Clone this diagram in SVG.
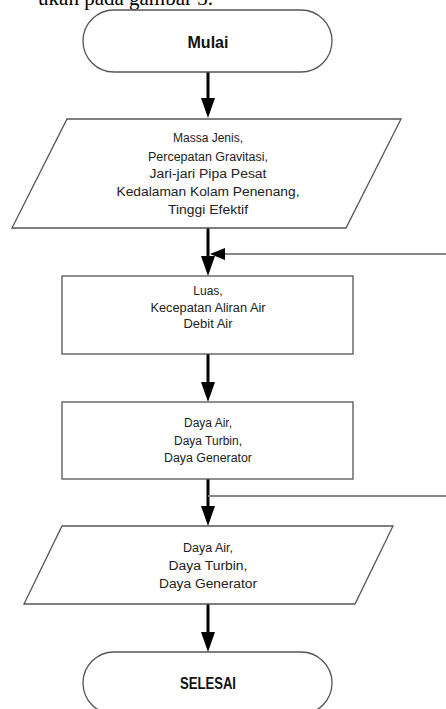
<svg xmlns="http://www.w3.org/2000/svg" width="446" height="709" viewBox="0 0 446 709">
<style>
.shape{fill:#fff;stroke:#555;stroke-width:1.3}
.t{font-family:"Liberation Sans",Arial,sans-serif;font-size:12px;fill:#222;text-anchor:middle}
.b{font-family:"Liberation Sans",Arial,sans-serif;font-size:16px;font-weight:bold;fill:#111;text-anchor:middle}
.flow{stroke:#000;stroke-width:3;fill:none}
.fb{stroke:#888;stroke-width:2;fill:none}
.ah{fill:#000}
</style>
<rect width="446" height="709" fill="#fff"/>
<text x="213" y="5" font-family="Liberation Serif,serif" font-size="21" text-anchor="end" fill="#000">ukan pada gambar 3.</text>
<g id="connectors">
<line class="flow" x1="208" y1="72" x2="208" y2="100"/>
<polygon class="ah" points="201,98 215,98 208,118"/>
<line class="flow" x1="208" y1="228" x2="208" y2="258"/>
<polygon class="ah" points="201,256 215,256 208,276"/>
<line class="fb" x1="446" y1="254" x2="222" y2="254"/>
<polygon class="ah" points="210,254 225,248 225,260"/>
<line class="flow" x1="208" y1="354" x2="208" y2="384"/>
<polygon class="ah" points="201,382 215,382 208,402"/>
<line class="flow" x1="208" y1="479" x2="208" y2="508"/>
<line class="fb" x1="208" y1="496" x2="446" y2="496"/>
<polygon class="ah" points="201,506 215,506 208,526"/>
<line class="flow" x1="208" y1="604" x2="208" y2="634"/>
<polygon class="ah" points="201,632 215,632 208,652"/>
</g>
<g id="start">
<rect class="shape" x="83" y="10" width="249" height="62" rx="31" ry="31"/>
<text class="b" x="208" y="48" textLength="41" lengthAdjust="spacingAndGlyphs">Mulai</text>
</g>
<g id="input">
<polygon class="shape" points="67,119 401,119 346,228 12,228"/>
<text class="t" x="208" y="142" textLength="70" lengthAdjust="spacingAndGlyphs">Massa Jenis,</text>
<text class="t" x="208" y="161" textLength="120" lengthAdjust="spacingAndGlyphs">Percepatan Gravitasi,</text>
<text class="t" x="208" y="178" textLength="117" lengthAdjust="spacingAndGlyphs">Jari-jari Pipa Pesat</text>
<text class="t" x="208" y="196" textLength="183" lengthAdjust="spacingAndGlyphs">Kedalaman Kolam Penenang,</text>
<text class="t" x="208" y="214" textLength="80" lengthAdjust="spacingAndGlyphs">Tinggi Efektif</text>
</g>
<g id="process1">
<rect class="shape" x="62" y="276" width="291" height="78"/>
<text class="t" x="208" y="295">Luas,</text>
<text class="t" x="208" y="312" textLength="115" lengthAdjust="spacingAndGlyphs">Kecepatan Aliran Air</text>
<text class="t" x="208" y="328" textLength="49" lengthAdjust="spacingAndGlyphs">Debit Air</text>
</g>
<g id="process2">
<rect class="shape" x="62" y="402" width="291" height="77"/>
<text class="t" x="208" y="427" textLength="48" lengthAdjust="spacingAndGlyphs">Daya Air,</text>
<text class="t" x="208" y="445" textLength="68" lengthAdjust="spacingAndGlyphs">Daya Turbin,</text>
<text class="t" x="208" y="462" textLength="88" lengthAdjust="spacingAndGlyphs">Daya Generator</text>
</g>
<g id="output">
<polygon class="shape" points="62,526 393,526 355,604 24,604"/>
<text class="t" x="208" y="552" textLength="50" lengthAdjust="spacingAndGlyphs">Daya Air,</text>
<text class="t" x="208" y="570" textLength="79" lengthAdjust="spacingAndGlyphs">Daya Turbin,</text>
<text class="t" x="208" y="588" textLength="98" lengthAdjust="spacingAndGlyphs">Daya Generator</text>
</g>
<g id="end">
<rect class="shape" x="83" y="652" width="249" height="62" rx="31" ry="31"/>
<text class="b" x="208" y="689" textLength="56" lengthAdjust="spacingAndGlyphs">SELESAI</text>
</g>
</svg>
